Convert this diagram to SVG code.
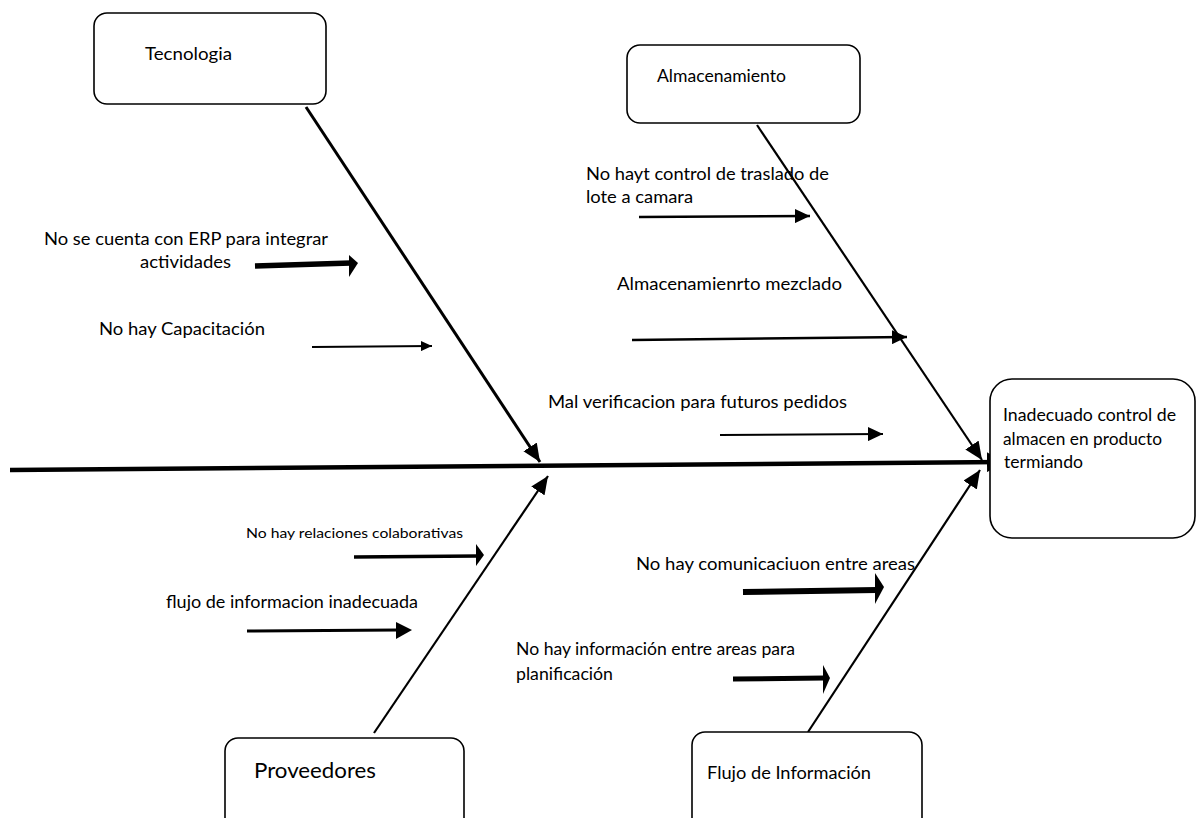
<svg xmlns="http://www.w3.org/2000/svg" width="1196" height="818" viewBox="0 0 1196 818">
  <style>
    .box { fill: #ffffff; stroke: #000000; stroke-width: 1.6; }
    .lbl { font-family: Lato, "Liberation Sans", sans-serif; fill: #000000; }
    .bone { stroke: #000000; fill: none; }
    .cause { stroke: #000000; fill: none; }
    .head { fill: #000000; stroke: none; }
  </style>
  <defs>
    <marker id="hBone" markerUnits="userSpaceOnUse" markerWidth="18" markerHeight="16" refX="18" refY="8" orient="auto">
      <path d="M0,0 L18,8 L0,16 z" fill="#000"/>
    </marker>
    <marker id="hSpine" markerUnits="userSpaceOnUse" markerWidth="16" markerHeight="20" refX="16" refY="10" orient="auto">
      <path d="M0,0 L16,10 L0,20 z" fill="#000"/>
    </marker>
    <marker id="hMd" markerUnits="userSpaceOnUse" markerWidth="15" markerHeight="14" refX="15" refY="7" orient="auto">
      <path d="M0,0 L15,7 L0,14 z" fill="#000"/>
    </marker>
    <marker id="hSm" markerUnits="userSpaceOnUse" markerWidth="11" markerHeight="10" refX="11" refY="5" orient="auto">
      <path d="M0,0 L11,5 L0,10 z" fill="#000"/>
    </marker>
  </defs>

  <rect width="1196" height="818" fill="#ffffff"/>

  <!-- spine, main bones and cause arrows -->
  <g id="connectors">
    <line class="bone" x1="10" y1="470" x2="1003" y2="462" stroke-width="4.5" marker-end="url(#hSpine)"/>
    <line class="bone" x1="306" y1="107" x2="540" y2="462" stroke-width="3" marker-end="url(#hBone)"/>
    <line class="bone" x1="757" y1="125" x2="982" y2="460" stroke-width="2.2" marker-end="url(#hBone)"/>
    <line class="bone" x1="374" y1="733" x2="548" y2="476" stroke-width="2.2" marker-end="url(#hBone)"/>
    <line class="bone" x1="808" y1="732" x2="980" y2="470" stroke-width="2.2" marker-end="url(#hBone)"/>

    <!-- Tecnologia causes -->
    <line class="cause" x1="255" y1="266" x2="351" y2="263" stroke-width="5.5"/>
    <polygon class="head" points="349,255 358,263 349,277"/>
    <line class="cause" x1="312" y1="347" x2="432" y2="346" stroke-width="2" marker-end="url(#hSm)"/>

    <!-- Almacenamiento causes -->
    <line class="cause" x1="639" y1="217" x2="810" y2="216" stroke-width="2.5" marker-end="url(#hMd)"/>
    <line class="cause" x1="632" y1="340" x2="907" y2="337" stroke-width="2.5" marker-end="url(#hMd)"/>
    <line class="cause" x1="720" y1="435" x2="883" y2="434" stroke-width="2" marker-end="url(#hMd)"/>

    <!-- Proveedores causes -->
    <line class="cause" x1="354" y1="557" x2="478" y2="556" stroke-width="3.5"/>
    <polygon class="head" points="476,544 484,555 476,566"/>
    <line class="cause" x1="247" y1="631" x2="398" y2="630" stroke-width="3"/>
    <polygon class="head" points="396,622 412,630 396,639"/>

    <!-- Flujo de Información causes -->
    <line class="cause" x1="743" y1="592" x2="877" y2="590" stroke-width="6"/>
    <polygon class="head" points="875,573 884,587 875,604"/>
    <line class="cause" x1="733" y1="679" x2="825" y2="678" stroke-width="5"/>
    <polygon class="head" points="823,665 830,678 823,694"/>
  </g>

  <g id="node-tecnologia">
    <rect class="box" x="94" y="13" width="232" height="91" rx="13"/>
    <text class="lbl" x="145" y="60" font-size="18" textLength="87" lengthAdjust="spacingAndGlyphs">Tecnologia</text>
  </g>

  <g id="node-almacenamiento">
    <rect class="box" x="627" y="45" width="233" height="78" rx="13"/>
    <text class="lbl" x="657" y="82" font-size="17" textLength="129" lengthAdjust="spacingAndGlyphs">Almacenamiento</text>
  </g>

  <g id="node-efecto">
    <rect class="box" x="990" y="379" width="205" height="159" rx="22"/>
    <text class="lbl" x="1003" y="421" font-size="17" textLength="173" lengthAdjust="spacingAndGlyphs">Inadecuado  control de</text>
    <text class="lbl" x="1003" y="445" font-size="17" textLength="159" lengthAdjust="spacingAndGlyphs">almacen en producto</text>
    <text class="lbl" x="1004" y="468" font-size="17" textLength="79" lengthAdjust="spacingAndGlyphs">termiando</text>
  </g>

  <g id="node-proveedores">
    <rect class="box" x="225" y="738" width="239" height="100" rx="13"/>
    <text class="lbl" x="254" y="778" font-size="21" textLength="122" lengthAdjust="spacingAndGlyphs">Proveedores</text>
  </g>

  <g id="node-flujo">
    <rect class="box" x="692" y="732" width="230" height="106" rx="13"/>
    <text class="lbl" x="707" y="779" font-size="17" textLength="164" lengthAdjust="spacingAndGlyphs">Flujo de Información</text>
  </g>

  <g id="cause-erp">
    <text class="lbl" x="44" y="245" font-size="17" textLength="284" lengthAdjust="spacingAndGlyphs">No se cuenta con ERP para integrar</text>
    <text class="lbl" x="140" y="268" font-size="17" textLength="91" lengthAdjust="spacingAndGlyphs">actividades</text>
  </g>

  <g id="cause-capacitacion">
    <text class="lbl" x="99" y="335" font-size="17" textLength="166" lengthAdjust="spacingAndGlyphs">No hay Capacitación</text>
  </g>

  <g id="cause-traslado">
    <text class="lbl" x="586" y="180" font-size="17" textLength="243" lengthAdjust="spacingAndGlyphs">No hayt control de traslado de</text>
    <text class="lbl" x="586" y="203" font-size="17" textLength="107" lengthAdjust="spacingAndGlyphs">lote a camara</text>
  </g>

  <g id="cause-mezclado">
    <text class="lbl" x="617" y="290" font-size="17" textLength="225" lengthAdjust="spacingAndGlyphs">Almacenamienrto  mezclado</text>
  </g>

  <g id="cause-verificacion">
    <text class="lbl" x="548" y="408" font-size="17" textLength="299" lengthAdjust="spacingAndGlyphs">Mal verificacion para futuros  pedidos</text>
  </g>

  <g id="cause-relaciones">
    <text class="lbl" x="246" y="538" font-size="14" textLength="217" lengthAdjust="spacingAndGlyphs">No hay relaciones colaborativas</text>
  </g>

  <g id="cause-flujo-inadecuado">
    <text class="lbl" x="166" y="608" font-size="17" textLength="252" lengthAdjust="spacingAndGlyphs">flujo de informacion inadecuada</text>
  </g>

  <g id="cause-comunicacion">
    <text class="lbl" x="636" y="570" font-size="17" textLength="279" lengthAdjust="spacingAndGlyphs">No hay comunicaciuon  entre areas</text>
  </g>

  <g id="cause-planificacion">
    <text class="lbl" x="516" y="655" font-size="17" textLength="279" lengthAdjust="spacingAndGlyphs">No hay  información entre areas para</text>
    <text class="lbl" x="516" y="680" font-size="17" textLength="97" lengthAdjust="spacingAndGlyphs">planificación</text>
  </g>
</svg>
